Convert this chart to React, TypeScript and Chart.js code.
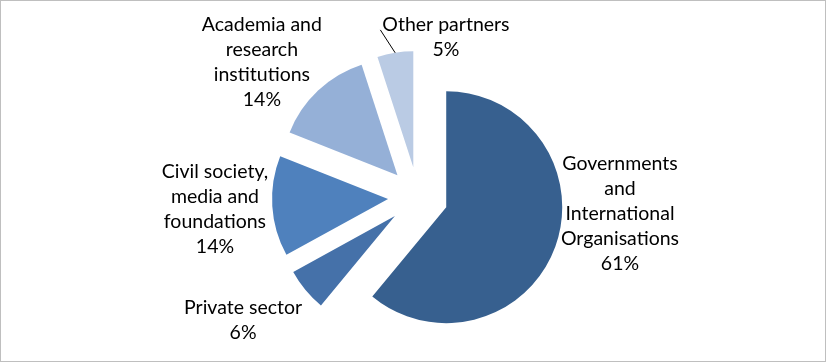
import React, { useEffect, useRef } from "react";
import { Chart, registerables } from "chart.js";

Chart.register(...registerables);

// ---- data ----
const CATEGORIES = [
  "Governments and International Organisations",
  "Private sector",
  "Civil society, media and foundations",
  "Academia and research institutions",
  "Other partners",
];
const VALUES = [61, 6, 14, 14, 5];
const LABEL_LINES = [
  ["Governments", "and", "International", "Organisations"],
  ["Private sector"],
  ["Civil society,", "media and", "foundations"],
  ["Academia and", "research", "institutions"],
  ["Other partners"],
];

// ---- styles / layout ----
const COLORS = ["#37608f", "#4571a9", "#4f81bd", "#95b0d7", "#bacbe4"];
const EXPLODE = 30;
const RADIUS = 116;
const LABEL_ANGLE = [92.2, 235.6, 266.7, 309.7, 14.1]; // degrees clockwise from top
const LABEL_DIST = [173.9, 184, 173.4, 176.2, 134];
const LEADER = [false, false, false, false, true];
const FONT_FAMILY = "Lato";
const FONT_SIZE = 19.5;
const LINE_H = 25;

const explodePlugin = {
  id: "explodeSlices",
  afterDatasetsUpdate(chart: any) {
    const meta = chart.getDatasetMeta(0);
    meta.data.forEach((arc: any) => {
      const mid = (arc.startAngle + arc.endAngle) / 2;
      arc.x += Math.cos(mid) * EXPLODE;
      arc.y += Math.sin(mid) * EXPLODE;
    });
  },
};

const labelPlugin = {
  id: "sliceLabels",
  afterDatasetsDraw(chart: any) {
    const ctx = chart.ctx as CanvasRenderingContext2D;
    const meta = chart.getDatasetMeta(0);
    const total = VALUES.reduce((a, b) => a + b, 0);
    ctx.save();
    ctx.font = `${FONT_SIZE}px ${FONT_FAMILY}`;
    ctx.fillStyle = "#000";
    ctx.strokeStyle = "#000";
    ctx.textAlign = "center";
    ctx.textBaseline = "middle";
    meta.data.forEach((arc: any, i: number) => {
      const a = (LABEL_ANGLE[i] * Math.PI) / 180;
      const cx = arc.x + Math.sin(a) * LABEL_DIST[i];
      const cy = arc.y - Math.cos(a) * LABEL_DIST[i];
      const lines = [...LABEL_LINES[i], Math.round((VALUES[i] / total) * 100) + "%"];
      const y0 = cy - ((lines.length - 1) / 2) * LINE_H;
      lines.forEach((t, j) => ctx.fillText(t, cx, y0 + j * LINE_H));
      if (LEADER[i]) {
        const mid = (arc.startAngle + arc.endAngle) / 2;
        const sx = arc.x + Math.cos(mid) * arc.outerRadius;
        const sy = arc.y + Math.sin(mid) * arc.outerRadius;
        const w = Math.max(...lines.map((t) => ctx.measureText(t).width));
        ctx.beginPath();
        ctx.lineWidth = 1;
        ctx.moveTo(sx, sy);
        ctx.lineTo(cx - w / 2 - 2, y0 + 5);
        ctx.stroke();
      }
    });
    ctx.restore();
  },
};

export default function App() {
  const ref = useRef<HTMLCanvasElement>(null);
  useEffect(() => {
    let chart: Chart | null = null;
    let cancelled = false;
    const make = () => {
      if (cancelled || !ref.current) return;
      chart = new Chart(ref.current, {
        type: "pie",
        data: {
          labels: CATEGORIES,
          datasets: [
            {
              data: VALUES,
              backgroundColor: COLORS,
              borderWidth: 0,
            },
          ],
        },
        options: {
          animation: false,
          responsive: false,
          radius: RADIUS,
          events: [],
          layout: { padding: { left: 9, right: 0, top: 31, bottom: 0 } },
          plugins: {
            legend: { display: false },
            tooltip: { enabled: false },
          },
        } as any,
        plugins: [explodePlugin, labelPlugin],
      });
    };
    const fonts: any = (document as any).fonts;
    if (fonts && fonts.load) {
      fonts.load(`${FONT_SIZE}px ${FONT_FAMILY}`).then(make, make);
    } else {
      make();
    }
    return () => {
      cancelled = true;
      if (chart) chart.destroy();
    };
  }, []);
  return (
    <div style={{ position: "fixed", left: 0, top: 0, width: 827, height: 363, background: "#fff" }}>
      <canvas ref={ref} width={827} height={363} style={{ position: "absolute", left: 0, top: 0 }} />
      <div
        style={{
          position: "absolute",
          left: 0,
          top: 0,
          width: 826,
          height: 362,
          boxSizing: "border-box",
          border: "1px solid #bfbfbf",
          pointerEvents: "none",
        }}
      />
    </div>
  );
}
